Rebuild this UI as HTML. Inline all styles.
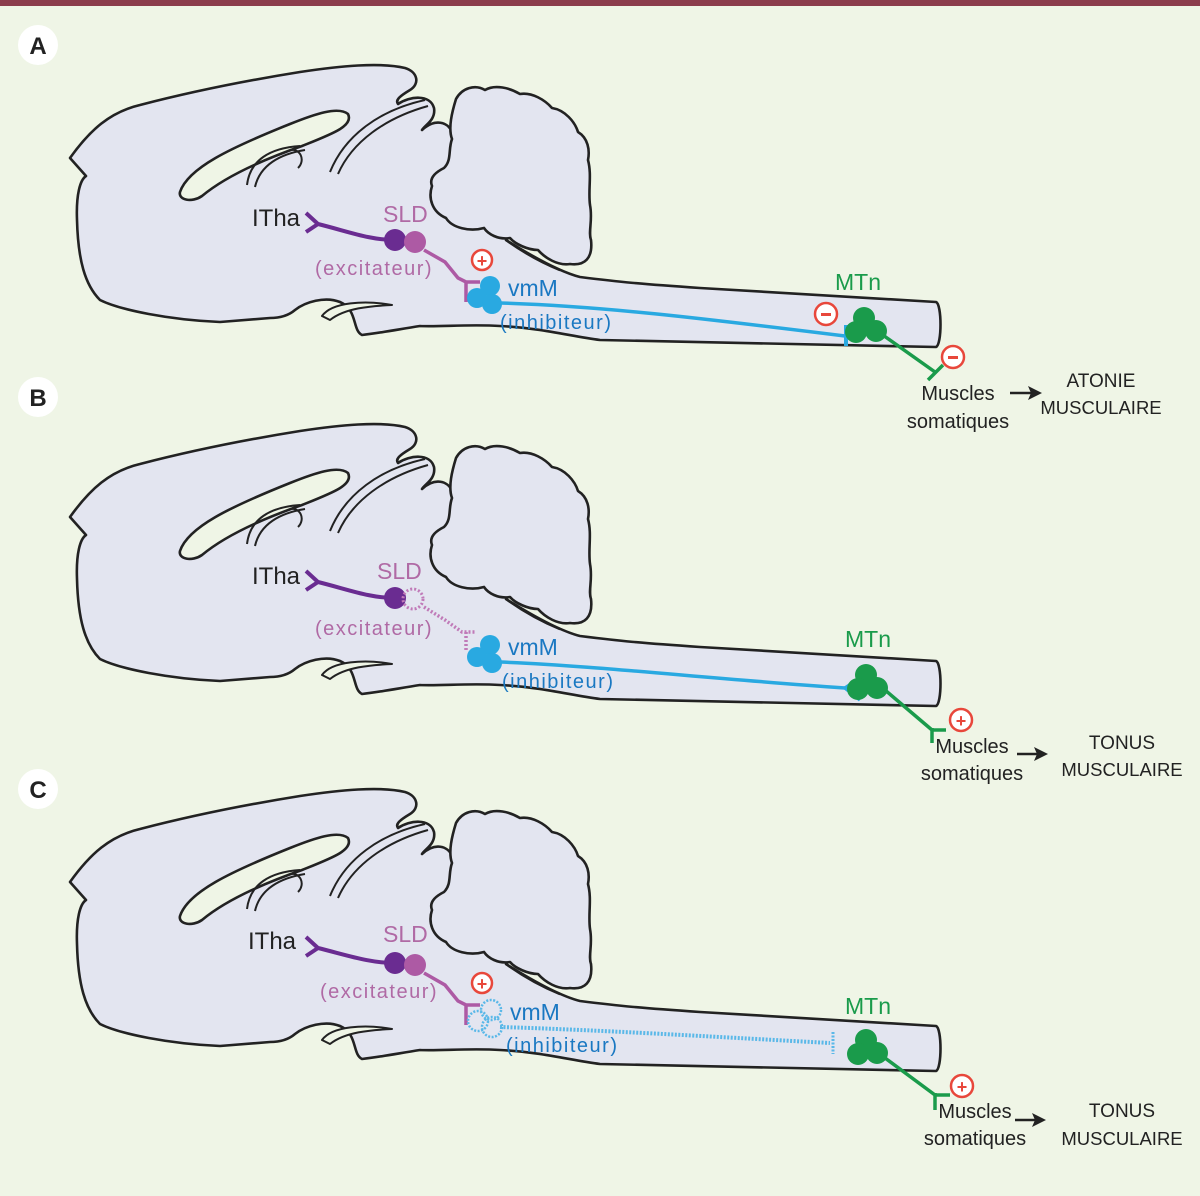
<!DOCTYPE html>
<html><head><meta charset="utf-8"><style>
body{margin:0;background:#eff5e6;}
svg{display:block;}
text{font-family:"Liberation Sans",sans-serif;}
</style></head><body>
<svg width="1200" height="1196" viewBox="0 0 1200 1196" xmlns="http://www.w3.org/2000/svg">
<rect width="1200" height="1196" fill="#eff5e6"/>
<rect width="1200" height="6" fill="#8b3d4c"/>
<defs>
<g id="brain" stroke="#222" stroke-width="2.6" stroke-linejoin="round" fill="#e3e5f0">
<path d="M70,158 C90,130 110,112 140,105 C190,92 250,80 300,72 C340,66 380,62 405,68 C418,72 420,84 410,90 C400,96 395,100 398,104 C410,96 430,94 434,108 C436,120 425,125 422,130 C435,118 448,122 452,132 C470,150 520,200 506,240 C530,255 560,272 580,277 C620,282 640,284 700,288 L936,302 C942,304 942,345 936,347 L600,340 C570,336 540,328 500,326 C470,324 440,327 420,326 C395,330 380,333 362,335 C352,330 358,310 340,302 C325,296 305,302 295,310 C288,316 280,318 270,318 L220,322 C170,320 120,310 100,300 C85,285 78,260 77,220 C76,195 80,180 86,176 Z"/>
<path d="M456,99 C462,88 475,84 485,90 C495,84 510,88 520,94 C532,92 545,100 552,108 C565,110 575,122 578,132 C588,138 590,150 588,160 C592,175 588,190 590,205 C593,220 588,232 591,240 C593,258 585,266 570,264 C558,266 545,258 538,250 C528,250 515,244 510,238 C498,240 488,234 484,228 C470,232 452,228 446,218 C432,212 428,198 432,186 C428,176 440,170 444,168 C452,160 448,150 452,139 C448,128 452,112 456,99 Z"/>
<path d="M506,240 C520,250 540,262 560,270" fill="none"/>
<path d="M180,192 C188,168 230,148 290,124 C315,114 338,106 348,114 C354,126 332,134 302,146 C262,160 226,176 202,196 C192,203 178,200 180,192 Z" fill="#eff5e6"/>
<path d="M247,185 C250,160 270,148 300,146 M255,187 C260,165 280,154 305,150 M290,150 C300,148 306,160 298,168" fill="none" stroke-width="2"/>
<path d="M330,172 C345,135 380,110 425,100 M338,174 C352,142 385,118 428,106" fill="none" stroke-width="2"/>
<path d="M322,316 C332,302 365,300 392,305 C370,306 345,308 330,320 Z" fill="#eff5e6" stroke-width="2"/>
</g>
</defs>

<circle cx="38" cy="45" r="20" fill="#fff"/><text x="38" y="54" text-anchor="middle" font-size="24" font-weight="bold" fill="#222">A</text>
<circle cx="38" cy="397" r="20" fill="#fff"/><text x="38" y="406" text-anchor="middle" font-size="24" font-weight="bold" fill="#222">B</text>
<circle cx="38" cy="789" r="20" fill="#fff"/><text x="38" y="798" text-anchor="middle" font-size="24" font-weight="bold" fill="#222">C</text>

<use href="#brain"/>
<use href="#brain" transform="translate(0,359)"/>
<use href="#brain" transform="translate(0,724)"/>

<!-- A -->
<g>
<text x="252" y="226" font-size="24" fill="#222">ITha</text>
<text x="383" y="222" font-size="23" fill="#b06aa5">SLD</text>
<text x="315" y="275" font-size="20" letter-spacing="1.5" fill="#b06aa5">(excitateur)</text>
<path d="M306,213 L318,224 L306,232 M318,224 C350,232 370,240 395,240" stroke="#6a2c91" stroke-width="4" fill="none"/>
<circle cx="395" cy="240" r="11" fill="#6a2c91"/>
<circle cx="415" cy="242" r="11" fill="#ad5aa4"/>
<path d="M424,250 L445,262 L458,278 L466,282 L480,282 M466,281 L466,302" stroke="#ad5aa4" stroke-width="3.5" fill="none"/>
<path d="M500,303 C600,306 700,318 845,336" stroke="#29a9e1" stroke-width="3.5" fill="none"/>
<path d="M846,325 L846,346" stroke="#29a9e1" stroke-width="4"/>
<circle cx="490" cy="286" r="10" fill="#29a9e1"/><circle cx="477" cy="298" r="10" fill="#29a9e1"/><circle cx="492" cy="304" r="10" fill="#29a9e1"/>
<text x="508" y="296" font-size="23" fill="#1a78c2">vmM</text>
<text x="500" y="329" font-size="20" letter-spacing="1.5" fill="#1a78c2">(inhibiteur)</text>
<text x="835" y="290" font-size="23" fill="#1a9b4b">MTn</text>
<path d="M880,333 L935,372 M928,380 L943,365" stroke="#1a9b4b" stroke-width="3.5" fill="none"/>
<circle cx="864" cy="318" r="11" fill="#1a9b4b"/><circle cx="856" cy="332" r="11" fill="#1a9b4b"/><circle cx="876" cy="331" r="11" fill="#1a9b4b"/>
<circle cx="482" cy="260" r="10" fill="#fff" stroke="#e8473b" stroke-width="2.5"/><text x="482" y="267" text-anchor="middle" font-size="18" font-weight="bold" fill="#e8473b">+</text>
<circle cx="826" cy="314" r="11" fill="#fff" stroke="#e8473b" stroke-width="2.5"/><rect x="821" y="313" width="10" height="3" fill="#e8473b"/>
<circle cx="953" cy="357" r="11" fill="#fff" stroke="#e8473b" stroke-width="2.5"/><rect x="948" y="356" width="10" height="3" fill="#e8473b"/>
<text x="958" y="400" text-anchor="middle" font-size="20" fill="#222">Muscles</text>
<text x="958" y="428" text-anchor="middle" font-size="20" fill="#222">somatiques</text>
<path d="M1010,393 L1032,393" stroke="#222" stroke-width="2.5"/><path d="M1042,393 L1028,386 L1031,393 L1028,400 Z" fill="#222"/>
<text x="1101" y="387" text-anchor="middle" font-size="19" fill="#222">ATONIE</text>
<text x="1101" y="414" text-anchor="middle" font-size="18.5" fill="#222">MUSCULAIRE</text>
</g>

<!-- B -->
<g>
<text x="252" y="584" font-size="24" fill="#222">ITha</text>
<text x="377" y="579" font-size="23" fill="#b06aa5">SLD</text>
<text x="315" y="635" font-size="20" letter-spacing="1.5" fill="#b06aa5">(excitateur)</text>
<path d="M306,571 L318,582 L306,590 M318,582 C350,590 370,598 395,598" stroke="#6a2c91" stroke-width="4" fill="none"/>
<circle cx="395" cy="598" r="11" fill="#6a2c91"/>
<circle cx="413" cy="599" r="10" fill="none" stroke="#c07ab8" stroke-width="3" stroke-dasharray="2,2"/>
<path d="M424,607 L445,620 L462,632 L466,632 L476,632 M466,632 L466,650" stroke="#c07ab8" stroke-width="3.5" stroke-dasharray="2,2" fill="none"/>
<path d="M500,662 C600,666 700,678 845,688" stroke="#29a9e1" stroke-width="3.5" fill="none"/>
<path d="M860,678 L845,688 L860,700" stroke="#29a9e1" stroke-width="3.5" fill="none"/>
<circle cx="490" cy="645" r="10" fill="#29a9e1"/><circle cx="477" cy="657" r="10" fill="#29a9e1"/><circle cx="492" cy="663" r="10" fill="#29a9e1"/>
<text x="508" y="655" font-size="23" fill="#1a78c2">vmM</text>
<text x="502" y="688" font-size="20" letter-spacing="1.5" fill="#1a78c2">(inhibiteur)</text>
<text x="845" y="647" font-size="23" fill="#1a9b4b">MTn</text>
<path d="M885,690 L932,730 M932,730 L946,730 M932,728 L932,743" stroke="#1a9b4b" stroke-width="3.5" fill="none"/>
<circle cx="866" cy="675" r="11" fill="#1a9b4b"/><circle cx="858" cy="689" r="11" fill="#1a9b4b"/><circle cx="877" cy="688" r="11" fill="#1a9b4b"/>
<circle cx="961" cy="720" r="11" fill="#fff" stroke="#e8473b" stroke-width="2.5"/><text x="961" y="727" text-anchor="middle" font-size="18" font-weight="bold" fill="#e8473b">+</text>
<text x="972" y="753" text-anchor="middle" font-size="20" fill="#222">Muscles</text>
<text x="972" y="780" text-anchor="middle" font-size="20" fill="#222">somatiques</text>
<path d="M1017,754 L1038,754" stroke="#222" stroke-width="2.5"/><path d="M1048,754 L1034,747 L1037,754 L1034,761 Z" fill="#222"/>
<text x="1122" y="749" text-anchor="middle" font-size="19" fill="#222">TONUS</text>
<text x="1122" y="776" text-anchor="middle" font-size="18.5" fill="#222">MUSCULAIRE</text>
</g>

<!-- C -->
<g>
<text x="248" y="949" font-size="24" fill="#222">ITha</text>
<text x="383" y="942" font-size="23" fill="#b06aa5">SLD</text>
<text x="320" y="998" font-size="20" letter-spacing="1.5" fill="#b06aa5">(excitateur)</text>
<path d="M306,937 L318,948 L306,956 M318,948 C350,956 370,963 395,963" stroke="#6a2c91" stroke-width="4" fill="none"/>
<circle cx="395" cy="963" r="11" fill="#6a2c91"/>
<circle cx="415" cy="965" r="11" fill="#ad5aa4"/>
<path d="M424,973 L445,985 L458,1001 L466,1005 L480,1005 M466,1004 L466,1025" stroke="#ad5aa4" stroke-width="3.5" fill="none"/>
<path d="M500,1027 C600,1030 700,1036 830,1043" stroke="#5ab8e8" stroke-width="4" stroke-dasharray="2,1.5" fill="none"/>
<path d="M833,1032 L833,1054" stroke="#5ab8e8" stroke-width="3" stroke-dasharray="2,1.5"/>
<g fill="none" stroke="#5ab8e8" stroke-width="2.5" stroke-dasharray="2,1.5">
<circle cx="491" cy="1010" r="10"/><circle cx="478" cy="1021" r="10"/><circle cx="492" cy="1027" r="10"/>
</g>
<text x="510" y="1020" font-size="23" fill="#1a78c2">vmM</text>
<text x="506" y="1052" font-size="20" letter-spacing="1.5" fill="#1a78c2">(inhibiteur)</text>
<text x="845" y="1014" font-size="23" fill="#1a9b4b">MTn</text>
<path d="M885,1058 L935,1095 M935,1095 L950,1095 M935,1093 L935,1110" stroke="#1a9b4b" stroke-width="3.5" fill="none"/>
<circle cx="866" cy="1040" r="11" fill="#1a9b4b"/><circle cx="858" cy="1054" r="11" fill="#1a9b4b"/><circle cx="877" cy="1053" r="11" fill="#1a9b4b"/>
<circle cx="482" cy="983" r="10" fill="#fff" stroke="#e8473b" stroke-width="2.5"/><text x="482" y="990" text-anchor="middle" font-size="18" font-weight="bold" fill="#e8473b">+</text>
<circle cx="962" cy="1086" r="11" fill="#fff" stroke="#e8473b" stroke-width="2.5"/><text x="962" y="1093" text-anchor="middle" font-size="18" font-weight="bold" fill="#e8473b">+</text>
<text x="975" y="1118" text-anchor="middle" font-size="20" fill="#222">Muscles</text>
<text x="975" y="1145" text-anchor="middle" font-size="20" fill="#222">somatiques</text>
<path d="M1015,1120 L1036,1120" stroke="#222" stroke-width="2.5"/><path d="M1046,1120 L1032,1113 L1035,1120 L1032,1127 Z" fill="#222"/>
<text x="1122" y="1117" text-anchor="middle" font-size="19" fill="#222">TONUS</text>
<text x="1122" y="1145" text-anchor="middle" font-size="18.5" fill="#222">MUSCULAIRE</text>
</g>
</svg>
</body></html>
